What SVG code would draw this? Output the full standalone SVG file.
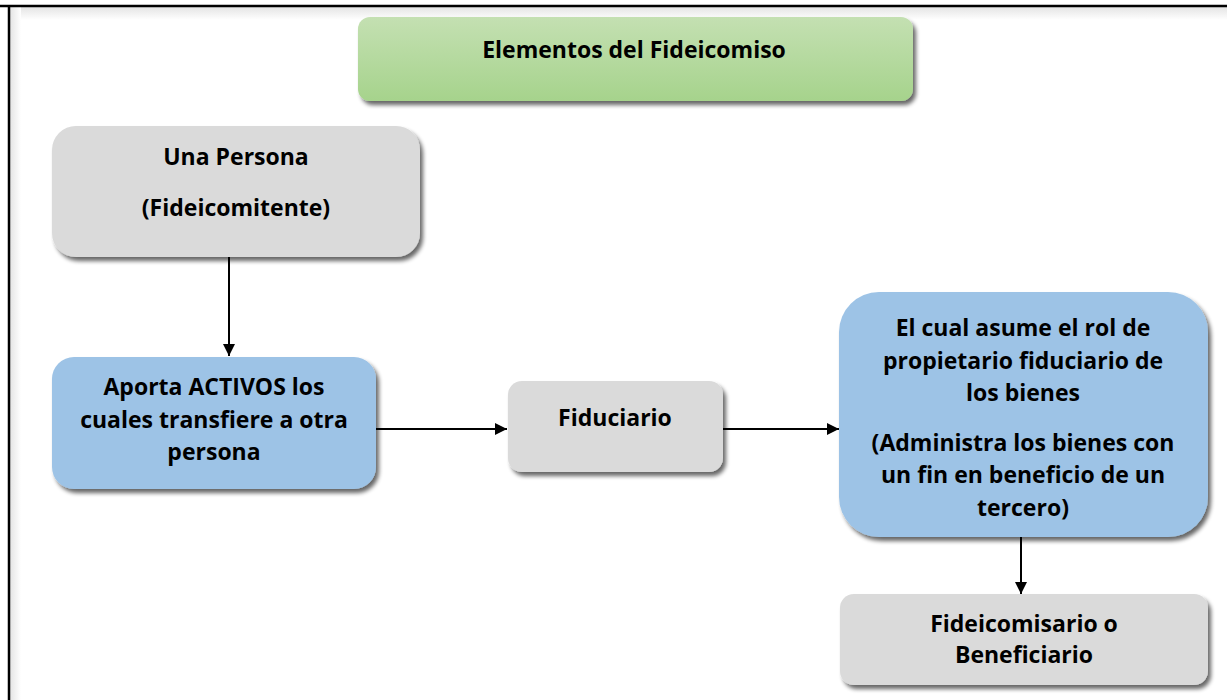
<svg xmlns="http://www.w3.org/2000/svg" width="1227" height="700" viewBox="0 0 1227 700">
<defs>
<linearGradient id="gGreen" x1="0" y1="0" x2="0" y2="1">
<stop offset="0" stop-color="#c4e0b2"/>
<stop offset="1" stop-color="#a6d38c"/>
</linearGradient>
<linearGradient id="topShade" x1="0" y1="0" x2="0" y2="1">
<stop offset="0" stop-color="#e2e2e2"/>
<stop offset="1" stop-color="#ffffff"/>
</linearGradient>
<linearGradient id="leftShade" x1="0" y1="0" x2="1" y2="0">
<stop offset="0" stop-color="#e2e2e2"/>
<stop offset="1" stop-color="#ffffff"/>
</linearGradient>
<filter id="sh" x="-10%" y="-10%" width="125%" height="130%">
<feGaussianBlur in="SourceAlpha" stdDeviation="2"/>
<feOffset dx="3" dy="4" result="b"/>
<feComponentTransfer><feFuncA type="linear" slope="0.6"/></feComponentTransfer>
<feMerge><feMergeNode/><feMergeNode in="SourceGraphic"/></feMerge>
</filter>
<marker id="arr" viewBox="0 0 10 10" refX="10" refY="5" markerWidth="12" markerHeight="12" markerUnits="userSpaceOnUse" orient="auto">
<path d="M0,0 L10,5 L0,10 Z" fill="#000"/>
</marker>
<style>
.t{font-family:"Open Sans","Liberation Sans",sans-serif;font-weight:700;font-size:23px;fill:#000;text-anchor:middle}
.gray{fill:#dadada}
.blue{fill:#9dc3e6}
.c{stroke:#000;stroke-width:2;fill:none;marker-end:url(#arr)}
</style>
</defs>
<rect x="0" y="0" width="1227" height="700" fill="#fff"/>
<rect x="9" y="6" width="1218" height="14" fill="url(#topShade)"/>
<rect x="9" y="6" width="12" height="694" fill="url(#leftShade)"/>
<line x1="0" y1="6" x2="1227" y2="6" stroke="#000" stroke-width="2.5"/>
<line x1="9" y1="6" x2="9" y2="700" stroke="#000" stroke-width="2.5"/>

<g id="connectors">
<line class="c" x1="229" y1="250" x2="229" y2="356"/>
<line class="c" x1="376" y1="429" x2="507" y2="429"/>
<line class="c" x1="723" y1="429" x2="839" y2="429"/>
<line class="c" x1="1021" y1="537" x2="1021" y2="594"/>
</g>

<g id="title">
<rect x="358" y="17" width="555" height="84" rx="12" fill="url(#gGreen)" filter="url(#sh)"/>
<text class="t" x="634" y="58">Elementos del Fideicomiso</text>
</g>

<g id="persona">
<rect class="gray" x="52" y="126" width="368" height="131" rx="24" filter="url(#sh)"/>
<text class="t" x="236" y="165">Una Persona</text>
<text class="t" x="236" y="216">(Fideicomitente)</text>
</g>

<g id="aporta">
<rect class="blue" x="52" y="357" width="324" height="132" rx="22" filter="url(#sh)"/>
<text class="t" x="214" y="395">Aporta ACTIVOS los</text>
<text class="t" x="214" y="428">cuales transfiere a otra</text>
<text class="t" x="214" y="460">persona</text>
</g>

<g id="fiduciario">
<rect class="gray" x="508" y="381" width="215" height="91" rx="14" filter="url(#sh)"/>
<text class="t" x="615" y="426">Fiduciario</text>
</g>

<g id="rol">
<rect class="blue" x="839" y="292" width="369" height="245" rx="40" filter="url(#sh)"/>
<text class="t" x="1023" y="336">El cual asume el rol de</text>
<text class="t" x="1023" y="369">propietario fiduciario de</text>
<text class="t" x="1023" y="401">los bienes</text>
<text class="t" x="1023" y="451">(Administra los bienes con</text>
<text class="t" x="1023" y="483">un fin en beneficio de un</text>
<text class="t" x="1023" y="516">tercero)</text>
</g>

<g id="beneficiario">
<rect class="gray" x="840" y="594" width="368" height="91" rx="14" filter="url(#sh)"/>
<text class="t" x="1024" y="632">Fideicomisario o</text>
<text class="t" x="1024" y="663">Beneficiario</text>
</g>
</svg>
